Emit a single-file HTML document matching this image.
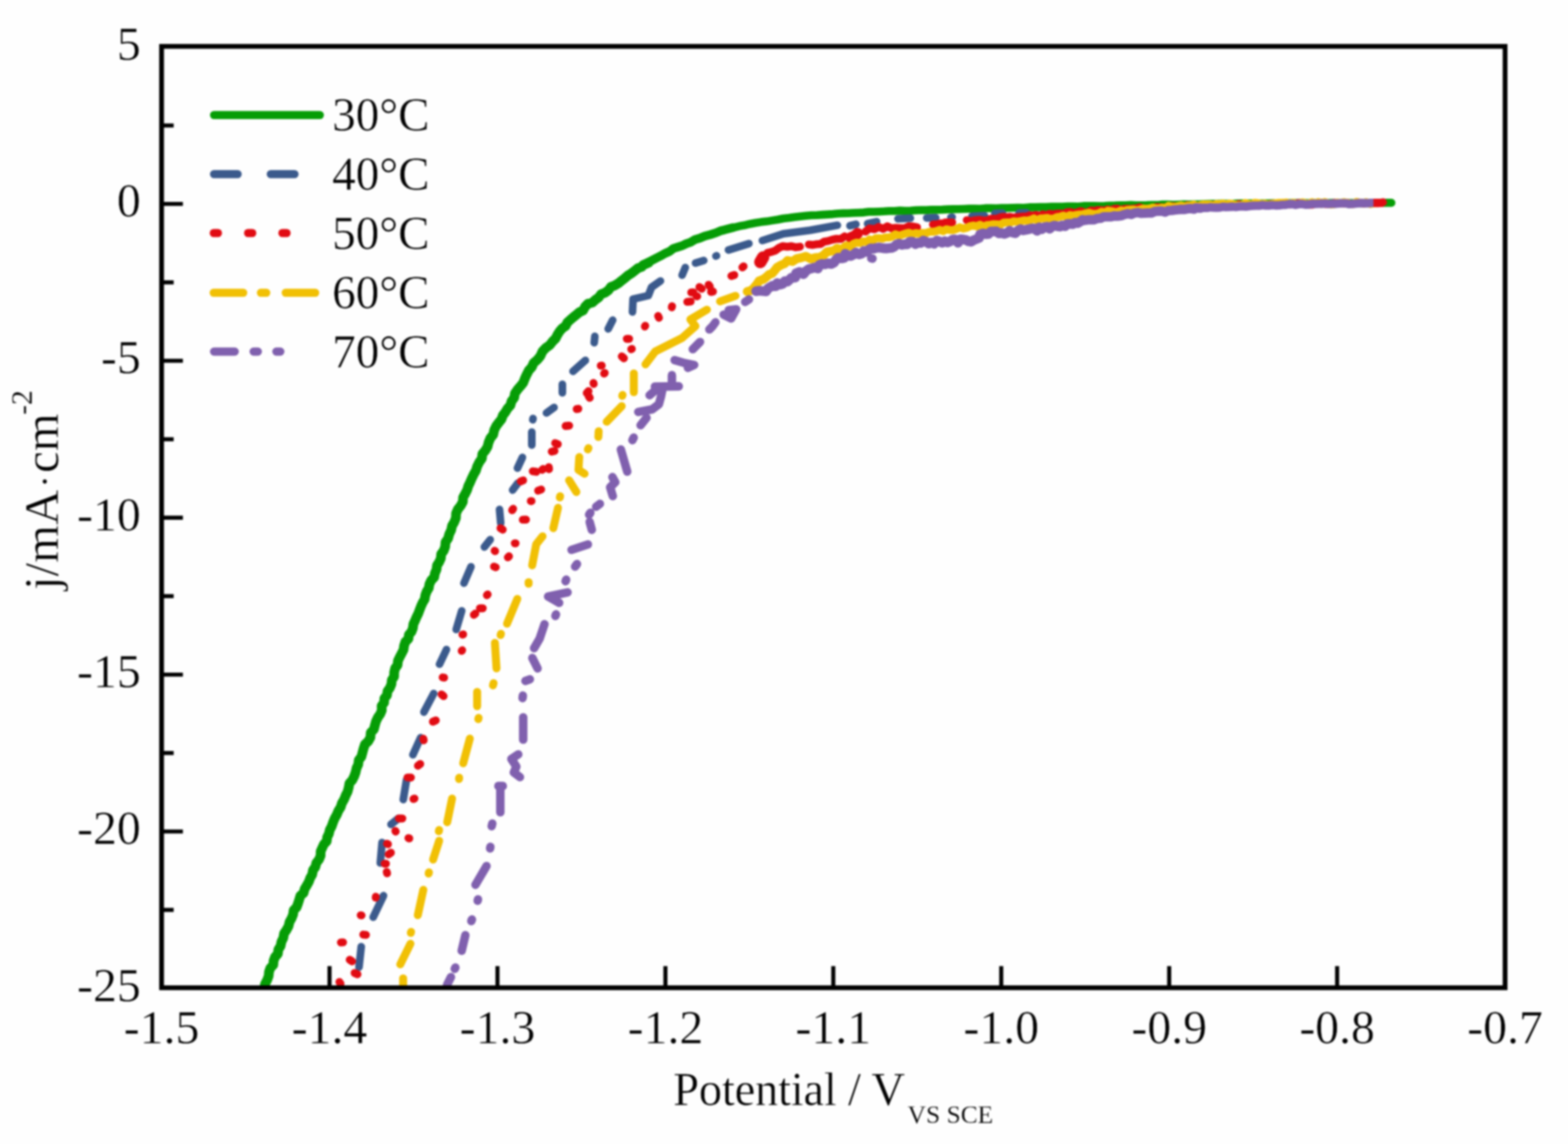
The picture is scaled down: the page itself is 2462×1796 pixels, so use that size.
<!DOCTYPE html>
<html lang="en"><head><meta charset="utf-8"><title>Polarization curves</title>
<style>
html,body{margin:0;padding:0;background:#fefefe;}
body{width:2462px;height:1796px;overflow:hidden;}
svg{display:block;filter:blur(1.7px);}
</style></head><body>
<svg width="2462" height="1796" viewBox="0 0 2462 1796">
<rect x="0" y="0" width="2462" height="1796" fill="#fefefe"/>
<clipPath id="cp"><rect x="253.7" y="72.8" width="2109.5" height="1480.9"/></clipPath>
<g clip-path="url(#cp)" fill="none" stroke-linecap="round" stroke-linejoin="round">
<path d="M410.2 1559.7 L415.4 1548.6 L416.1 1545.1 L419.4 1538.7 L421.8 1532.4 L422.4 1525.8 L424.4 1519.9 L429.1 1514.9 L429.6 1508.4 L431.8 1502.5 L436.3 1497.4 L437.1 1490.7 L440.6 1485.1 L441.9 1478.5 L444.9 1472.4 L446.0 1465.6 L449.9 1459.9 L453.1 1453.9 L454.6 1447.4 L457.8 1441.7 L460.2 1435.7 L461.1 1429.1 L465.7 1424.4 L467.9 1418.5 L469.8 1412.4 L471.6 1406.4 L476.7 1401.8 L478.3 1395.6 L481.6 1390.2 L484.8 1384.6 L487.0 1378.5 L490.2 1372.9 L491.4 1366.3 L495.2 1361.0 L496.8 1354.6 L500.9 1349.4 L503.4 1343.4 L503.5 1336.6 L506.0 1331.0 L508.6 1325.4 L513.0 1320.7 L513.7 1314.4 L516.4 1309.0 L517.8 1302.9 L520.8 1297.3 L522.9 1291.2 L525.4 1285.0 L528.7 1279.2 L531.3 1273.0 L534.9 1267.2 L536.9 1260.8 L540.3 1255.0 L542.8 1248.8 L545.8 1242.9 L547.5 1236.4 L548.7 1229.7 L553.3 1224.5 L556.2 1218.6 L558.4 1212.4 L559.8 1206.0 L562.5 1200.1 L563.3 1193.4 L567.4 1188.1 L569.1 1181.7 L570.8 1175.3 L572.9 1168.8 L578.2 1163.7 L581.6 1157.7 L582.1 1150.3 L587.0 1145.1 L588.7 1138.5 L590.5 1132.2 L593.3 1126.4 L597.0 1121.0 L599.5 1115.2 L599.2 1108.3 L603.1 1103.0 L603.5 1096.5 L607.6 1091.4 L608.5 1085.1 L612.2 1079.8 L614.6 1074.0 L615.2 1067.6 L618.8 1062.2 L618.9 1055.5 L620.4 1049.3 L624.2 1044.0 L624.9 1037.3 L627.7 1031.5 L630.7 1025.8 L633.6 1020.1 L634.5 1013.6 L636.5 1007.7 L641.3 1002.9 L642.0 996.5 L646.2 991.7 L648.3 986.0 L649.1 979.7 L651.7 974.2 L654.1 968.6 L656.8 963.1 L658.9 957.4 L661.1 951.7 L663.6 946.1 L666.8 940.8 L667.8 934.6 L669.9 928.8 L673.2 923.4 L674.3 917.0 L677.0 911.3 L681.7 906.3 L682.9 899.9 L685.4 894.1 L686.2 887.6 L689.6 882.3 L692.2 876.6 L692.7 870.0 L696.7 864.5 L699.0 858.3 L699.5 851.2 L703.6 845.2 L705.4 838.5 L708.4 832.3 L709.8 825.5 L713.3 819.6 L715.8 813.2 L716.1 806.0 L718.8 799.7 L723.2 794.1 L726.7 788.0 L727.2 780.9 L730.5 775.0 L733.5 769.1 L735.4 762.8 L738.2 757.1 L740.8 751.0 L743.7 744.9 L747.2 738.9 L749.3 732.1 L752.5 725.7 L756.6 719.9 L757.4 712.6 L762.0 707.2 L765.5 701.4 L767.2 694.5 L769.9 688.0 L774.5 682.2 L776.0 675.1 L779.1 668.9 L783.2 663.4 L787.4 658.2 L789.6 651.9 L793.6 646.9 L796.9 641.3 L801.4 636.4 L803.2 629.9 L807.3 624.5 L808.5 617.5 L812.5 611.8 L817.1 606.4 L821.5 600.9 L824.1 594.2 L827.0 587.9 L830.2 581.7 L835.0 576.4 L838.0 569.7 L843.8 564.8 L848.5 558.9 L851.7 551.8 L856.9 546.3 L863.1 541.9 L867.4 536.3 L872.3 531.5 L875.4 525.4 L878.8 520.0 L882.9 515.4 L888.1 511.7 L891.0 506.1 L895.5 502.0 L900.2 498.0 L905.0 494.1 L909.8 490.1 L915.6 487.3 L918.8 481.4 L923.2 476.9 L930.0 475.0 L934.7 470.8 L939.9 467.1 L943.9 461.9 L950.0 459.5 L955.2 455.8 L959.2 450.4 L965.5 448.1 L970.9 444.8 L975.9 440.7 L981.0 436.8 L985.9 432.5 L991.3 429.1 L996.4 425.2 L1001.4 421.2 L1007.6 418.9 L1009.7 416.3 L1018.6 412.3" stroke="#069d06" stroke-width="15.2" />
<path d="M1018.1 411.7 L1028.2 406.4 L1031.6 404.6 L1038.3 401.3 L1044.8 397.6 L1051.5 394.6 L1057.4 390.0 L1064.4 387.8 L1071.4 385.7 L1077.8 382.5 L1084.6 380.2 L1091.2 376.1 L1098.9 373.9 L1106.7 370.6 L1115.3 368.3 L1124.1 365.5 L1132.7 361.9 L1137.2 360.9 L1150.6 357.4" stroke="#069d06" stroke-width="13.8" />
<path d="M1150.7 357.6 L1163.8 354.4 L1168.2 353.8 L1177.0 351.7 L1185.9 350.0 L1194.8 348.6 L1203.7 347.6 L1212.5 346.1 L1221.3 344.7 L1230.0 343.0 L1238.9 342.0 L1247.8 340.7 L1256.6 339.7 L1265.4 338.7 L1274.2 338.0 L1282.9 337.8 L1291.4 337.1 L1299.7 336.6 L1307.9 336.1 L1316.0 335.2 L1324.0 334.9 L1332.0 334.7 L1340.0 334.3 L1348.0 334.0 L1356.0 333.6 L1364.0 332.5 L1372.1 332.5 L1380.2 332.2 L1388.3 331.8 L1396.5 331.2 L1404.8 331.2 L1413.1 330.6 L1421.4 331.0 L1429.6 330.7 L1437.9 330.1 L1446.2 329.7 L1454.5 329.9 L1462.8 329.3 L1471.1 329.4 L1479.5 329.1 L1487.9 328.6 L1496.4 328.4 L1504.8 328.3 L1513.3 328.0 L1521.8 327.6 L1530.2 327.5 L1538.7 327.7 L1547.1 326.9 L1555.6 326.7 L1564.1 327.0 L1572.6 326.5 L1581.2 326.5 L1589.8 326.3 L1598.6 326.0 L1607.3 326.3 L1616.1 325.4 L1624.9 325.4 L1633.7 325.0 L1642.4 325.1 L1651.1 324.6 L1659.7 324.5 L1668.1 324.6 L1676.5 324.1 L1684.8 324.1 L1693.0 324.2 L1701.2 323.4 L1709.5 323.2 L1717.7 323.2 L1726.0 323.5 L1734.3 323.2 L1742.5 322.7 L1750.7 322.6 L1759.0 322.3 L1767.2 322.4 L1775.5 321.9 L1783.8 322.2 L1792.0 322.2 L1800.3 322.1 L1808.6 321.8 L1816.9 321.9 L1825.2 321.0 L1833.6 321.1 L1841.9 321.5 L1850.2 321.2 L1858.5 320.8 L1866.8 321.1 L1875.1 320.7 L1883.4 320.8 L1891.7 320.2 L1900.1 320.0 L1908.4 320.1 L1916.7 319.7 L1925.0 319.8 L1933.3 320.2 L1941.7 319.6 L1950.0 319.3 L1958.3 319.3 L1966.7 319.3 L1975.0 319.8 L1983.3 319.4 L1991.7 319.3 L2000.0 319.0 L2008.3 319.7 L2016.7 319.2 L2025.0 318.9 L2033.3 318.8 L2041.7 318.7 L2050.0 318.8 L2058.4 319.1 L2066.8 318.7 L2075.3 318.5 L2083.7 318.9 L2092.1 318.6 L2100.5 319.2 L2108.9 318.5 L2117.4 318.8 L2125.8 318.9 L2134.2 318.6 L2142.6 319.0 L2151.0 318.6 L2159.4 318.4 L2167.9 318.5 L2172.1 318.2 L2184.7 318.4" stroke="#069d06" stroke-width="12.6" />
<path d="M563.7 1518.4 L567.2 1486.2" stroke="#3b5a8c" stroke-width="12.0" />
<path d="M586.0 1439.9 L602.2 1406.1" stroke="#3b5a8c" stroke-width="12.0" />
<path d="M597.1 1354.8 L599.9 1322.7" stroke="#3b5a8c" stroke-width="12.0" />
<path d="M613.9 1294.2 L625.7 1284.8" stroke="#3b5a8c" stroke-width="12.0" />
<path d="M633.2 1255.3 L638.3 1224.2" stroke="#3b5a8c" stroke-width="12.0" />
<path d="M648.3 1184.9 L660.5 1158.1" stroke="#3b5a8c" stroke-width="12.0" />
<path d="M665.6 1117.9 L681.0 1088.7" stroke="#3b5a8c" stroke-width="12.0" />
<path d="M690.1 1042.7 L701.0 1019.7" stroke="#3b5a8c" stroke-width="12.0" />
<path d="M716.3 988.3 L725.0 958.9" stroke="#3b5a8c" stroke-width="12.0" />
<path d="M728.5 915.5 L739.5 889.8" stroke="#3b5a8c" stroke-width="12.0" />
<path d="M760.5 858.7 L769.7 847.2" stroke="#3b5a8c" stroke-width="12.0" />
<path d="M786.2 821.3 L784.3 799.8" stroke="#3b5a8c" stroke-width="12.0" />
<path d="M804.9 769.4 L812.8 758.8" stroke="#3b5a8c" stroke-width="12.0" />
<path d="M812.5 734.9 L820.3 718.1" stroke="#3b5a8c" stroke-width="12.0" />
<path d="M835.0 698.8 L835.0 678.2" stroke="#3b5a8c" stroke-width="12.0" />
<path d="M836.5 659.0 L837.0 657.0" stroke="#3b5a8c" stroke-width="12.0" />
<path d="M858.0 648.3 L870.0 639.7" stroke="#3b5a8c" stroke-width="12.0" />
<path d="M883.0 616.8 L883.0 603.2" stroke="#3b5a8c" stroke-width="12.0" />
<path d="M899.7 582.9 L919.1 565.8" stroke="#3b5a8c" stroke-width="12.0" />
<path d="M933.0 538.0 L934.0 528.0" stroke="#3b5a8c" stroke-width="12.0" />
<path d="M955.0 516.3 L962.0 502.6" stroke="#3b5a8c" stroke-width="12.0" />
<path d="M993.1 489.8 L994.0 469.7 L1018.0 464.0 L1023.0 451.0 L1037.0 441.2" stroke="#3b5a8c" stroke-width="12.0" />
<path d="M1071.0 432.0 L1076.0 420.0" stroke="#3b5a8c" stroke-width="12.0" />
<path d="M1092.0 413.0 L1105.0 409.0" stroke="#3b5a8c" stroke-width="12.0" />
<path d="M1124.0 402.0 L1125.0 401.5" stroke="#3b5a8c" stroke-width="12.0" />
<path d="M1143.8 392.4 L1175.9 382.4" stroke="#3b5a8c" stroke-width="12.0" />
<path d="M1197.1 377.6 L1230.0 367.0 L1272.0 361.5 L1314.8 353.7" stroke="#3b5a8c" stroke-width="12.0" />
<path d="M1334.5 354.4 L1344.0 352.1" stroke="#3b5a8c" stroke-width="12.0" />
<path d="M1362.2 351.2 L1376.4 348.0" stroke="#3b5a8c" stroke-width="12.0" />
<path d="M1410.0 343.5 L1429.4 342.5" stroke="#3b5a8c" stroke-width="12.0" />
<path d="M1455.1 342.2 L1469.2 341.8" stroke="#3b5a8c" stroke-width="12.0" />
<path d="M1493.0 341.4 L1495.0 340.9" stroke="#3b5a8c" stroke-width="12.0" />
<path d="M1526.2 339.4 L1545.8 338.6" stroke="#3b5a8c" stroke-width="12.0" />
<path d="M1562.0 335.0 L1574.0 334.6" stroke="#3b5a8c" stroke-width="12.0" />
<path d="M1600.2 334.4 L1611.8 334.0" stroke="#3b5a8c" stroke-width="12.0" />
<path d="M534.7 1544.3 L532.9 1541.7" stroke="#e10b12" stroke-width="12.4" />
<path d="M561.3 1529.5 L556.7 1527.5" stroke="#e10b12" stroke-width="12.4" />
<path d="M552.9 1509.2 L549.1 1506.8" stroke="#e10b12" stroke-width="12.4" />
<path d="M535.3 1479.6 L538.7 1479.4" stroke="#e10b12" stroke-width="12.4" />
<path d="M574.6 1467.7 L570.4 1467.3" stroke="#e10b12" stroke-width="12.4" />
<path d="M567.7 1437.1 L566.3 1436.9" stroke="#e10b12" stroke-width="12.4" />
<path d="M589.9 1409.2 L590.1 1407.8" stroke="#e10b12" stroke-width="12.4" />
<path d="M607.8 1371.1 L607.2 1368.9" stroke="#e10b12" stroke-width="12.4" />
<path d="M604.0 1356.0 L606.0 1356.0" stroke="#e10b12" stroke-width="12.4" />
<path d="M610.2 1341.3 L613.8 1338.7" stroke="#e10b12" stroke-width="12.4" />
<path d="M609.2 1325.4 L607.8 1324.6" stroke="#e10b12" stroke-width="12.4" />
<path d="M642.7 1316.3 L641.3 1315.7" stroke="#e10b12" stroke-width="12.4" />
<path d="M621.3 1305.5 L620.7 1304.5" stroke="#e10b12" stroke-width="12.4" />
<path d="M626.3 1285.0 L631.7 1285.0" stroke="#e10b12" stroke-width="12.4" />
<path d="M649.2 1254.4 L650.8 1253.6" stroke="#e10b12" stroke-width="12.4" />
<path d="M645.2 1220.8 L639.8 1220.6" stroke="#e10b12" stroke-width="12.4" />
<path d="M656.2 1202.2 L659.8 1199.4" stroke="#e10b12" stroke-width="12.4" />
<path d="M665.3 1162.3 L664.7 1159.7" stroke="#e10b12" stroke-width="12.4" />
<path d="M679.7 1133.0 L684.3 1131.0" stroke="#e10b12" stroke-width="12.4" />
<path d="M696.5 1092.9 L693.3 1090.1" stroke="#e10b12" stroke-width="12.4" />
<path d="M697.4 1063.9 L695.0 1063.5" stroke="#e10b12" stroke-width="12.4" />
<path d="M724.9 1021.8 L725.7 1020.8" stroke="#e10b12" stroke-width="12.4" />
<path d="M726.1 996.3 L727.3 995.9" stroke="#e10b12" stroke-width="12.4" />
<path d="M744.0 965.3 L746.4 963.3" stroke="#e10b12" stroke-width="12.4" />
<path d="M753.6 955.0 L758.0 955.0" stroke="#e10b12" stroke-width="12.4" />
<path d="M764.5 934.5 L765.7 933.1" stroke="#e10b12" stroke-width="12.4" />
<path d="M778.4 890.6 L775.6 889.4" stroke="#e10b12" stroke-width="12.4" />
<path d="M797.4 875.1 L799.2 873.3" stroke="#e10b12" stroke-width="12.4" />
<path d="M777.4 865.2 L776.6 864.6" stroke="#e10b12" stroke-width="12.4" />
<path d="M809.5 853.0 L808.3 853.0" stroke="#e10b12" stroke-width="12.4" />
<path d="M789.4 831.5 L785.8 829.3" stroke="#e10b12" stroke-width="12.4" />
<path d="M820.9 815.9 L825.9 815.7" stroke="#e10b12" stroke-width="12.4" />
<path d="M804.1 801.0 L805.7 798.8" stroke="#e10b12" stroke-width="12.4" />
<path d="M833.4 786.7 L834.6 786.7" stroke="#e10b12" stroke-width="12.4" />
<path d="M844.9 770.3 L849.7 768.5" stroke="#e10b12" stroke-width="12.4" />
<path d="M817.6 755.7 L821.4 754.1" stroke="#e10b12" stroke-width="12.4" />
<path d="M842.1 740.7 L836.5 739.9" stroke="#e10b12" stroke-width="12.4" />
<path d="M851.3 737.7 L852.7 736.3" stroke="#e10b12" stroke-width="12.4" />
<path d="M862.1 736.5 L861.7 733.5" stroke="#e10b12" stroke-width="12.4" />
<path d="M866.3 709.0 L870.7 708.0" stroke="#e10b12" stroke-width="12.4" />
<path d="M875.9 697.4 L871.7 695.6" stroke="#e10b12" stroke-width="12.4" />
<path d="M888.1 668.7 L893.7 668.3" stroke="#e10b12" stroke-width="12.4" />
<path d="M905.5 642.2 L908.1 641.8" stroke="#e10b12" stroke-width="12.4" />
<path d="M926.0 624.6 L924.0 621.4" stroke="#e10b12" stroke-width="12.4" />
<path d="M921.3 617.0 L924.1 614.0" stroke="#e10b12" stroke-width="12.4" />
<path d="M932.2 602.8 L931.8 601.2" stroke="#e10b12" stroke-width="12.4" />
<path d="M948.5 586.5 L949.5 585.5" stroke="#e10b12" stroke-width="12.4" />
<path d="M943.2 574.1 L944.8 573.9" stroke="#e10b12" stroke-width="12.4" />
<path d="M979.7 562.5 L976.3 559.5" stroke="#e10b12" stroke-width="12.4" />
<path d="M991.1 548.2 L992.1 547.8" stroke="#e10b12" stroke-width="12.4" />
<path d="M987.8 532.0 L984.2 532.0" stroke="#e10b12" stroke-width="12.4" />
<path d="M1012.5 512.6 L1013.1 511.4" stroke="#e10b12" stroke-width="12.4" />
<path d="M1034.7 499.0 L1033.3 496.0" stroke="#e10b12" stroke-width="12.4" />
<path d="M1054.8 482.5 L1055.2 480.7" stroke="#e10b12" stroke-width="12.4" />
<path d="M1079.1 473.9 L1084.5 473.3" stroke="#e10b12" stroke-width="12.4" />
<path d="M1085.3 459.1 L1088.7 458.9" stroke="#e10b12" stroke-width="12.4" />
<path d="M1094.7 465.2 L1093.3 464.8" stroke="#e10b12" stroke-width="12.4" />
<path d="M1101.9 453.3 L1098.1 450.7" stroke="#e10b12" stroke-width="12.4" />
<path d="M1114.6 449.9 L1112.6 447.1" stroke="#e10b12" stroke-width="12.4" />
<path d="M1116.5 458.3 L1119.5 457.7" stroke="#e10b12" stroke-width="12.4" />
<path d="M1148.4 433.2 L1153.0 431.8" stroke="#e10b12" stroke-width="12.4" />
<path d="M1165.6 419.8 L1167.6 418.2" stroke="#e10b12" stroke-width="12.4" />
<path d="M1193.8 411.4 L1198.2 404.1" stroke="#e10b12" stroke-width="19.4" />
<path d="M1204.9 397.0 L1211.3 395.5 L1217.5 393.3 L1222.9 389.2 L1228.9 386.5 L1236.2 387.4 L1242.7 386.5 L1249.5 388.2 L1256.1 387.3" stroke="#e10b12" stroke-width="12.4" />
<path d="M1270.0 383.9 L1276.3 384.5 L1282.3 383.4 L1288.4 383.0 L1294.0 379.3 L1300.0 378.4 L1306.5 376.4 L1313.2 374.9 L1320.3 375.1 L1326.3 371.0" stroke="#e10b12" stroke-width="12.4" />
<path d="M1336.0 372.8 L1342.0 370.6 L1346.4 366.5" stroke="#e10b12" stroke-width="17.4" />
<path d="M1358.9 363.6 L1365.3 358.5 L1373.0 359.9 L1379.7 356.2 L1386.7 359.3 L1393.3 355.2 L1400.0 358.5 L1406.7 357.6 L1413.4 358.1 L1420.0 358.5 L1426.6 355.3 L1433.3 355.5 L1440.0 356.8" stroke="#e10b12" stroke-width="12.4" />
<path d="M1464.9 352.5 L1471.5 351.9 L1477.9 350.7" stroke="#e10b12" stroke-width="12.4" />
<path d="M1484.0 349.1 L1495.1 349.2" stroke="#e10b12" stroke-width="12.4" />
<path d="M1518.0 345.7 L1524.4 347.4 L1530.8 345.9 L1537.2 345.2 L1543.6 346.2 L1550.0 346.0" stroke="#e10b12" stroke-width="12.4" />
<path d="M1555.0 343.4 L1562.8 343.4 L1565.4 343.2 L1570.5 341.2 L1575.7 340.4 L1580.9 341.2 L1586.1 340.5 L1591.3 341.7 L1596.4 341.0 L1601.5 340.4 L1606.7 339.9 L1611.8 339.9 L1616.8 338.0 L1622.0 338.6 L1627.1 337.4 L1632.4 339.3 L1637.3 336.4 L1642.7 338.3 L1647.8 335.6 L1653.4 337.0 L1658.7 335.5 L1664.3 335.2 L1669.9 336.0 L1675.3 333.1 L1680.8 332.7 L1686.5 334.8 L1691.8 333.1 L1697.1 331.4 L1702.7 333.7 L1707.9 333.2 L1713.0 330.4 L1718.3 331.0 L1723.6 329.7 L1728.9 329.9 L1734.2 330.5 L1739.4 328.7 L1744.7 330.0 L1749.8 327.7 L1754.9 327.8 L1760.1 329.4 L1765.0 328.0 L1770.0 327.8 L1775.0 328.0 L1780.0 327.4 L1785.0 326.9 L1789.9 325.6 L1795.0 327.4 L1800.1 327.9 L1805.1 327.7 L1810.0 326.5 L1815.0 325.3 L1820.0 325.1 L1825.0 325.8 L1830.0 325.5 L1834.9 323.6 L1840.0 323.7 L1845.0 323.9 L1850.0 324.1 L1855.0 324.8 L1860.0 323.8 L1865.0 322.2 L1870.0 324.5 L1875.0 323.2 L1880.0 323.4 L1885.0 322.4 L1890.0 322.8 L1895.0 322.6 L1900.0 323.6 L1905.0 321.5 L1910.0 322.7 L1915.0 321.5 L1920.0 323.0 L1925.0 320.9 L1930.0 321.5 L1935.0 321.5 L1940.0 322.3 L1945.0 320.4 L1950.0 321.5 L1955.0 320.7 L1960.0 320.8 L1965.0 321.2 L1970.0 322.6 L1975.0 321.0 L1980.0 322.3 L1985.0 319.9 L1990.0 322.0 L1995.0 320.2 L2000.0 319.6 L2005.1 321.2 L2010.1 321.6 L2015.1 318.8 L2020.2 319.6 L2025.2 321.0 L2030.3 319.7 L2035.3 319.3 L2040.3 318.5 L2045.4 318.6 L2050.4 320.2 L2055.5 321.3 L2060.5 321.3 L2065.6 319.7 L2070.6 318.2 L2075.7 319.0 L2080.7 320.4 L2085.8 320.4 L2090.8 319.8 L2095.8 318.5 L2100.9 319.3 L2105.9 319.1 L2111.0 319.5 L2116.0 318.4 L2121.1 320.4 L2126.1 320.1 L2131.1 317.9 L2136.2 318.2 L2141.2 319.9 L2146.3 318.0 L2151.3 320.0 L2156.4 318.6 L2161.4 319.1 L2163.9 319.1 L2171.5 317.5" stroke="#e10b12" stroke-width="12.4" />
<path d="M633.0 1536.0 L633.0 1550.0" stroke="#f1c004" stroke-width="12.5" />
<path d="M628.5 1513.9 L644.5 1481.6" stroke="#f1c004" stroke-width="12.5" />
<path d="M645.0 1464.6 L645.5 1463.0" stroke="#f1c004" stroke-width="12.5" />
<path d="M656.0 1436.8 L664.7 1396.9" stroke="#f1c004" stroke-width="12.5" />
<path d="M673.0 1371.5 L673.5 1369.5" stroke="#f1c004" stroke-width="12.5" />
<path d="M680.0 1349.5 L689.6 1319.9" stroke="#f1c004" stroke-width="12.5" />
<path d="M689.0 1305.0 L689.5 1303.0" stroke="#f1c004" stroke-width="12.5" />
<path d="M702.2 1290.8 L709.8 1253.7" stroke="#f1c004" stroke-width="12.5" />
<path d="M720.7 1223.0 L721.0 1221.0" stroke="#f1c004" stroke-width="12.5" />
<path d="M727.3 1198.3 L737.7 1159.6" stroke="#f1c004" stroke-width="12.5" />
<path d="M751.0 1129.0 L751.5 1127.0" stroke="#f1c004" stroke-width="12.5" />
<path d="M749.2 1108.8 L749.2 1086.2" stroke="#f1c004" stroke-width="12.5" />
<path d="M774.0 1076.0 L775.0 1072.5" stroke="#f1c004" stroke-width="12.5" />
<path d="M779.6 1049.3 L777.1 1009.2" stroke="#f1c004" stroke-width="12.5" />
<path d="M786.0 997.0 L786.6 995.0" stroke="#f1c004" stroke-width="12.5" />
<path d="M796.1 979.1 L812.3 940.2" stroke="#f1c004" stroke-width="12.5" />
<path d="M830.0 916.5 L830.0 914.0" stroke="#f1c004" stroke-width="12.5" />
<path d="M835.6 887.5 L842.0 854.3 L851.9 841.9" stroke="#f1c004" stroke-width="12.5" />
<path d="M868.8 829.2 L876.2 797.2" stroke="#f1c004" stroke-width="12.5" />
<path d="M879.0 781.0 L879.5 779.0" stroke="#f1c004" stroke-width="12.5" />
<path d="M893.6 754.0 L905.0 772.4" stroke="#f1c004" stroke-width="12.5" />
<path d="M917.9 743.7 L908.3 737.6 L909.5 717.6" stroke="#f1c004" stroke-width="12.5" />
<path d="M923.0 705.5 L924.0 703.5" stroke="#f1c004" stroke-width="12.5" />
<path d="M939.5 686.0 L940.0 677.0" stroke="#f1c004" stroke-width="12.5" />
<path d="M952.6 662.1 L976.2 637.6" stroke="#f1c004" stroke-width="12.5" />
<path d="M977.0 621.5 L977.5 620.0" stroke="#f1c004" stroke-width="12.5" />
<path d="M995.2 615.8 L995.2 586.2" stroke="#f1c004" stroke-width="12.5" />
<path d="M1013.5 572.0 L1028.7 551.9 L1071.0 530.6 L1092.0 512.0 L1084.0 501.5 L1110.0 486.2" stroke="#f1c004" stroke-width="12.5" />
<path d="M1130.6 473.2 L1154.9 464.4" stroke="#f1c004" stroke-width="12.5" />
<path d="M1173.3 457.8 L1179.6 455.9 L1183.9 451.8 L1188.0 446.8 L1191.8 441.0 L1198.7 438.4 L1203.5 434.7 L1207.4 431.1 L1212.3 429.3 L1216.4 424.7 L1220.3 419.6 L1226.4 416.2 L1231.9 413.8 L1236.5 409.0 L1244.3 410.5 L1250.8 406.2 L1258.1 404.6 L1265.3 402.4 L1273.2 406.4 L1280.1 404.5 L1286.9 404.1 L1293.3 400.5 L1298.3 395.5 L1304.4 394.4 L1309.8 393.4 L1314.3 389.9 L1320.7 392.1" stroke="#f1c004" stroke-width="14.0" />
<path d="M1320.5 391.8 L1327.1 386.4 L1329.5 385.2 L1335.6 387.4 L1339.7 382.8 L1344.7 381.0 L1350.4 381.6 L1355.2 379.0 L1360.8 379.7 L1365.1 375.9 L1370.7 377.5 L1375.0 374.0 L1380.3 374.1 L1385.6 374.5 L1390.6 372.7 L1395.9 372.8 L1401.0 371.2 L1405.8 367.8 L1411.6 370.3 L1416.6 368.4 L1421.7 366.6 L1427.0 365.4 L1432.6 367.5 L1437.9 365.9 L1443.4 366.8 L1448.8 365.7 L1454.2 365.9 L1459.5 363.8 L1464.9 363.8 L1470.1 362.8 L1475.3 360.8 L1480.9 363.0 L1485.9 359.9 L1491.4 361.1 L1496.8 361.2 L1502.0 359.4 L1507.0 356.8 L1512.6 358.9 L1517.9 357.7 L1522.9 355.2 L1528.2 354.0 L1533.7 355.4 L1538.7 352.8 L1544.4 355.7 L1549.5 353.5 L1554.8 352.9 L1560.1 351.9 L1565.5 352.3 L1570.9 352.7 L1575.9 349.6 L1581.2 349.2 L1586.6 349.3 L1591.8 347.5 L1597.2 348.1 L1602.5 347.2 L1607.8 346.1 L1613.1 346.4 L1618.3 345.2 L1623.3 342.9 L1628.9 346.0 L1633.7 342.9 L1638.9 342.7 L1644.0 342.1 L1649.4 343.7 L1654.5 343.3 L1659.5 341.0 L1664.6 340.1 L1669.6 338.4 L1675.0 341.1 L1679.8 337.7 L1685.0 338.7 L1689.9 337.4 L1694.9 336.8 L1699.9 336.4 L1704.9 335.2 L1709.8 334.1 L1715.0 335.5 L1720.1 336.0 L1725.1 334.8 L1729.9 332.5 L1735.1 333.9 L1739.8 330.8 L1745.0 331.7 L1750.1 332.9 L1755.2 332.7 L1760.0 330.4 L1765.1 331.5 L1770.0 329.7 L1775.0 329.3 L1780.0 329.1 L1785.2 330.3 L1790.1 328.9 L1795.0 327.4 L1800.1 328.0 L1805.0 327.3 L1810.0 325.8 L1815.1 327.2 L1820.1 327.1 L1825.0 325.9 L1830.1 327.0 L1834.9 323.0 L1840.0 324.6 L1845.0 324.9 L1850.0 323.4 L1854.9 322.5 L1860.0 324.4 L1865.0 323.1 L1870.0 322.3 L1874.9 321.2 L1880.1 324.7 L1885.0 322.0 L1889.9 320.9 L1895.0 321.1 L1900.0 321.0 L1905.1 323.3 L1909.9 320.3 L1915.0 320.5 L1919.9 319.6 L1925.0 321.0 L1930.0 319.8 L1935.0 320.2 L1940.0 321.7 L1945.0 322.4 L1950.0 321.9 L1955.0 318.7 L1960.0 320.0 L1965.0 321.8 L1970.0 318.4 L1975.0 319.0 L1980.0 320.1 L1985.0 319.6 L1990.0 321.0 L1995.0 320.8 L2000.0 319.7 L2005.0 318.8 L2010.0 318.6 L2015.0 318.8 L2020.0 317.9 L2025.0 320.3 L2030.0 318.2 L2035.0 321.1 L2040.0 320.1 L2045.0 317.7 L2050.0 319.4 L2055.0 319.8 L2060.0 317.5 L2065.0 319.3 L2070.0 317.4 L2075.0 320.3 L2080.0 317.2 L2085.0 319.7 L2090.0 321.1 L2095.0 320.5 L2100.0 318.0 L2105.0 319.2 L2110.0 317.5 L2115.0 318.3 L2120.0 320.4 L2125.0 320.1 L2130.0 316.9 L2135.0 318.3 L2140.0 319.3 L2145.0 317.4 L2150.0 319.9 L2152.5 320.2 L2160.0 318.8" stroke="#f1c004" stroke-width="12.5" />
<path d="M702.0 1546.0 L708.0 1534.0" stroke="#8060ae" stroke-width="13.3" />
<path d="M714.0 1521.0 L715.0 1519.0" stroke="#8060ae" stroke-width="13.3" />
<path d="M724.9 1492.6 L730.7 1468.2" stroke="#8060ae" stroke-width="13.3" />
<path d="M740.0 1446.0 L741.0 1443.5" stroke="#8060ae" stroke-width="13.3" />
<path d="M750.0 1414.0 L750.5 1412.0" stroke="#8060ae" stroke-width="13.3" />
<path d="M746.6 1389.0 L763.9 1359.6" stroke="#8060ae" stroke-width="13.3" />
<path d="M769.5 1332.0 L770.0 1329.5" stroke="#8060ae" stroke-width="13.3" />
<path d="M772.0 1297.0 L773.0 1293.0" stroke="#8060ae" stroke-width="13.3" />
<path d="M785.6 1275.2 L785.6 1237.2" stroke="#8060ae" stroke-width="13.3" />
<path d="M782.5 1234.0 L789.5 1234.0" stroke="#8060ae" stroke-width="13.3" />
<path d="M816.4 1220.0 L806.8 1212.7 L810.8 1203.5 L802.9 1191.5 L813.8 1184.3" stroke="#8060ae" stroke-width="13.3" />
<path d="M821.5 1161.2 L821.5 1126.2" stroke="#8060ae" stroke-width="13.3" />
<path d="M820.5 1096.0 L821.0 1092.0" stroke="#8060ae" stroke-width="13.3" />
<path d="M825.0 1069.0 L832.0 1066.5" stroke="#8060ae" stroke-width="13.3" />
<path d="M844.1 1049.4 L835.9 1033.0" stroke="#8060ae" stroke-width="13.3" />
<path d="M838.6 1017.6 L847.3 1002.7 L854.9 980.0" stroke="#8060ae" stroke-width="13.3" />
<path d="M872.0 967.0 L873.0 964.5" stroke="#8060ae" stroke-width="13.3" />
<path d="M878.0 946.4 L860.6 936.5 L891.2 930.0" stroke="#8060ae" stroke-width="13.3" />
<path d="M888.0 912.5 L889.0 910.0" stroke="#8060ae" stroke-width="13.3" />
<path d="M903.0 889.5 L906.0 885.5" stroke="#8060ae" stroke-width="13.3" />
<path d="M897.4 863.2 L923.1 854.7" stroke="#8060ae" stroke-width="13.3" />
<path d="M929.2 831.8 L925.8 819.2" stroke="#8060ae" stroke-width="13.3" />
<path d="M925.0 808.0 L927.0 805.0" stroke="#8060ae" stroke-width="13.3" />
<path d="M936.0 795.5 L942.0 791.0" stroke="#8060ae" stroke-width="13.3" />
<path d="M962.2 778.9 L958.0 765.0 L966.0 757.0 L961.6 749.0" stroke="#8060ae" stroke-width="13.3" />
<path d="M984.9 740.4 L974.8 705.7" stroke="#8060ae" stroke-width="13.3" />
<path d="M993.0 691.0 L995.0 687.0" stroke="#8060ae" stroke-width="13.3" />
<path d="M1005.8 667.6 L1015.2 655.9" stroke="#8060ae" stroke-width="13.3" />
<path d="M1002.2 646.8 L1024.0 642.6 L1034.6 634.6 L1038.0 622.0 L1039.8 613.2" stroke="#8060ae" stroke-width="13.3" />
<path d="M1028.2 607.0 L1065.8 606.5" stroke="#8060ae" stroke-width="13.3" />
<path d="M1020.0 620.5 L1027.0 614.5" stroke="#8060ae" stroke-width="13.3" />
<path d="M1055.0 603.0 L1055.0 589.0" stroke="#8060ae" stroke-width="13.3" />
<path d="M1059.2 565.3 L1075.0 570.0 L1090.0 573.0 L1080.1 577.5" stroke="#8060ae" stroke-width="13.3" />
<path d="M1087.8 548.2 L1099.2 536.8" stroke="#8060ae" stroke-width="13.3" />
<path d="M1113.8 517.2 L1119.0 512.0 L1123.3 506.0" stroke="#8060ae" stroke-width="13.3" />
<path d="M1136.1 494.0 L1148.0 500.0 L1156.0 485.6 L1144.2 486.9" stroke="#8060ae" stroke-width="13.3" />
<path d="M1170.0 474.0 L1176.0 470.0" stroke="#8060ae" stroke-width="13.3" />
<path d="M1187.3 457.2 L1192.3 456.5 L1197.5 457.0 L1202.8 457.5 L1206.1 452.7 L1209.5 450.6 L1212.9 448.7 L1218.1 449.3 L1220.2 444.5 L1225.2 446.9 L1229.0 445.5 L1232.2 441.4 L1236.5 442.0 L1239.7 439.1 L1242.7 435.8 L1248.6 435.9 L1250.0 429.1 L1255.0 426.9 L1261.7 430.4 L1265.5 425.5 L1269.9 422.5 L1274.7 421.4 L1279.0 419.9 L1284.2 421.6 L1286.4 415.9 L1290.3 414.4 L1295.3 415.0 L1299.7 413.4 L1305.2 414.4 L1309.7 412.1 L1312.7 407.5 L1315.8 404.6 L1321.4 405.7 L1325.3 405.0 L1327.1 398.4 L1332.2 401.7 L1336.2 401.8 L1340.1 399.8 L1343.9 396.6 L1348.9 399.4 L1353.1 398.2 L1356.4 394.1 L1361.0 395.5 L1364.1 392.0 L1367.6 389.8 L1372.0 390.3 L1375.9 389.2 L1379.9 388.6 L1384.2 389.3 L1388.3 389.9 L1392.4 390.0 L1396.4 389.5 L1400.4 389.1 L1404.2 387.3 L1407.9 383.8 L1411.9 382.4 L1416.4 384.4 L1420.5 383.3 L1424.7 383.5 L1428.3 379.4 L1432.6 379.3 L1437.3 383.2 L1441.3 381.0 L1445.5 381.4 L1449.7 377.7 L1454.0 379.4 L1458.3 382.3 L1462.5 380.6 L1466.8 382.6 L1470.9 377.7 L1475.1 379.1 L1479.3 381.0 L1483.4 378.7 L1487.6 380.6 L1491.7 379.0 L1495.7 376.2 L1499.8 375.9 L1504.2 381.1 L1508.1 375.7 L1512.3 376.0 L1516.4 376.7 L1520.7 378.8 L1524.8 379.5 L1528.9 377.0 L1532.7 375.5 L1537.4 373.5 L1538.9 368.0 L1543.3 366.5 L1547.9 367.5 L1552.0 367.3 L1555.9 363.3 L1560.1 363.4 L1564.2 363.2 L1568.7 366.4 L1572.8 365.9 L1577.1 367.2 L1581.2 365.6 L1585.2 362.3 L1589.8 365.0 L1594.2 366.1 L1598.3 362.0 L1602.5 359.7 L1607.0 361.6 L1611.2 360.8 L1615.5 359.8 L1619.6 358.7 L1623.7 358.7 L1628.3 362.4 L1631.6 357.0 L1636.1 359.7 L1639.7 356.7 L1643.7 356.0 L1648.3 359.1 L1651.8 355.4 L1655.7 354.1 L1660.0 355.1 L1664.2 355.8 L1668.0 353.9 L1672.4 355.1 L1675.9 351.6 L1680.0 351.5 L1684.3 351.9 L1688.0 349.6 L1692.3 350.3 L1696.0 348.0 L1699.6 345.2" stroke="#8060ae" stroke-width="15.3" />
<path d="M1699.8 346.4 L1708.2 345.2 L1711.1 344.8 L1716.9 345.2 L1722.3 343.2 L1728.0 342.7 L1733.2 340.3 L1738.8 340.4 L1744.4 340.4 L1749.6 339.0 L1755.0 339.4 L1760.3 338.7 L1765.5 336.8 L1770.7 335.4 L1776.2 336.6 L1781.3 334.5 L1786.6 333.7 L1792.1 334.9 L1797.4 334.7 L1802.7 334.3 L1808.0 334.3 L1813.2 332.2 L1818.4 331.5 L1823.7 331.3 L1829.2 333.0 L1834.3 330.6 L1839.6 330.4 L1844.7 329.6 L1849.8 329.2 L1854.9 328.6 L1860.0 328.8 L1864.9 327.7 L1869.9 327.5 L1875.1 328.4 L1877.4 326.3 L1885.1 326.9" stroke="#8060ae" stroke-width="14.8" />
<path d="M1885.0 326.3 L1892.5 326.2 L1895.0 326.4 L1900.0 325.4 L1905.0 325.8 L1910.0 326.0 L1915.0 325.9 L1920.0 324.6 L1925.1 325.1 L1930.2 324.9 L1935.4 324.5 L1940.6 325.0 L1945.8 324.1 L1951.0 323.8 L1956.2 324.4 L1961.4 323.7 L1966.6 323.0 L1971.8 322.8 L1977.0 322.9 L1982.2 322.0 L1987.4 322.7 L1992.6 322.7 L1997.8 322.0 L2003.0 322.5 L2008.2 322.4 L2013.4 321.6 L2018.6 321.6 L2023.8 320.5 L2029.0 320.3 L2034.2 321.6 L2039.4 320.4 L2044.6 320.2 L2049.9 321.3 L2055.1 321.0 L2060.3 319.9 L2065.5 320.1 L2070.7 319.9 L2075.9 319.9 L2081.1 319.4 L2086.3 320.2 L2091.5 319.8 L2096.7 319.8 L2101.9 319.4 L2107.1 319.2 L2112.4 319.1 L2117.6 320.3 L2122.8 320.1 L2128.1 319.7 L2133.4 319.0 L2138.8 319.0 L2144.2 318.9 L2146.9 319.2 L2155.0 318.7" stroke="#8060ae" stroke-width="13.3" />
<path d="M1368.0 405.5 L1370.0 406.0" stroke="#8060ae" stroke-width="13.3" />
<path d="M2156.5 318.4 L2172.0 318.4" stroke="#e10b12" stroke-width="13.0" stroke-linecap="butt"/>
</g>
<rect x="253.7" y="72.8" width="2109.5" height="1477.9" fill="none" stroke="#000" stroke-width="7.5"/>
<g stroke="#000" stroke-width="6.4" fill="none">
<line x1="517.4" y1="1550.7" x2="517.4" y2="1516.7"/>
<line x1="781.1" y1="1550.7" x2="781.1" y2="1516.7"/>
<line x1="1044.8" y1="1550.7" x2="1044.8" y2="1516.7"/>
<line x1="1308.4" y1="1550.7" x2="1308.4" y2="1516.7"/>
<line x1="1572.1" y1="1550.7" x2="1572.1" y2="1516.7"/>
<line x1="1835.8" y1="1550.7" x2="1835.8" y2="1516.7"/>
<line x1="2099.5" y1="1550.7" x2="2099.5" y2="1516.7"/>
<line x1="253.7" y1="197.0" x2="272.7" y2="197.0"/>
<line x1="253.7" y1="320.1" x2="287.2" y2="320.1"/>
<line x1="253.7" y1="443.3" x2="272.7" y2="443.3"/>
<line x1="253.7" y1="566.4" x2="287.2" y2="566.4"/>
<line x1="253.7" y1="689.6" x2="272.7" y2="689.6"/>
<line x1="253.7" y1="812.8" x2="287.2" y2="812.8"/>
<line x1="253.7" y1="935.9" x2="272.7" y2="935.9"/>
<line x1="253.7" y1="1059.1" x2="287.2" y2="1059.1"/>
<line x1="253.7" y1="1182.2" x2="272.7" y2="1182.2"/>
<line x1="253.7" y1="1305.4" x2="287.2" y2="1305.4"/>
<line x1="253.7" y1="1428.5" x2="272.7" y2="1428.5"/>
</g>
<g font-family='"Liberation Serif", "Times New Roman", serif' font-size="75" fill="#000" stroke="#fefefe" stroke-width="0.6">
<text x="221.0" y="93.8" text-anchor="end">5</text>
<text x="221.0" y="340.1" text-anchor="end">0</text>
<text x="221.0" y="586.4" text-anchor="end">-5</text>
<text x="221.0" y="832.8" text-anchor="end">-10</text>
<text x="221.0" y="1079.1" text-anchor="end">-15</text>
<text x="221.0" y="1325.4" text-anchor="end">-20</text>
<text x="221.0" y="1571.7" text-anchor="end">-25</text>
<text x="253.7" y="1638.4" text-anchor="middle">-1.5</text>
<text x="517.4" y="1638.4" text-anchor="middle">-1.4</text>
<text x="781.1" y="1638.4" text-anchor="middle">-1.3</text>
<text x="1044.8" y="1638.4" text-anchor="middle">-1.2</text>
<text x="1308.4" y="1638.4" text-anchor="middle">-1.1</text>
<text x="1572.1" y="1638.4" text-anchor="middle">-1.0</text>
<text x="1835.8" y="1638.4" text-anchor="middle">-0.9</text>
<text x="2099.5" y="1638.4" text-anchor="middle">-0.8</text>
<text x="2363.2" y="1638.4" text-anchor="middle">-0.7</text>
<text x="521.5" y="205.3" font-size="74.0">30°C</text>
<text x="521.5" y="297.9" font-size="74.0">40°C</text>
<text x="521.5" y="391.2" font-size="74.0">50°C</text>
<text x="521.5" y="484.0" font-size="74.0">60°C</text>
<text x="521.5" y="577.3" font-size="74.0">70°C</text>
<text x="1057.0" y="1735.0" font-size="73.0" letter-spacing="-0.32">Potential / V<tspan font-size="40.0" dy="28.0" dx="4.5" letter-spacing="0" stroke-width="0.25">VS SCE</tspan></text>
<text transform="translate(91.0 926.2) rotate(-90)" font-size="76.5">j/mA<tspan font-size="61.2" dx="3.0">·</tspan><tspan dx="3.0">cm</tspan><tspan font-size="47.0" dy="-41.0" dx="-2.5" stroke-width="0.3">-2</tspan></text>
</g>
<g fill="none" stroke-linecap="round" stroke-width="12.8">
<line x1="336.1" y1="180.6" x2="502.2" y2="180.6" stroke="#069d06"/>
<line x1="336.1" y1="273.4" x2="373.1" y2="273.4" stroke="#3b5a8c"/>
<line x1="425.2" y1="273.4" x2="462.4" y2="273.4" stroke="#3b5a8c"/>
<line x1="335.6" y1="365.9" x2="342.2" y2="365.9" stroke="#e10b12"/>
<line x1="389.5" y1="365.9" x2="396.1" y2="365.9" stroke="#e10b12"/>
<line x1="443.4" y1="365.9" x2="450.0" y2="365.9" stroke="#e10b12"/>
<line x1="335.5" y1="459.6" x2="381.9" y2="459.6" stroke="#f1c004"/>
<line x1="409.7" y1="459.6" x2="418.1" y2="459.6" stroke="#f1c004"/>
<line x1="448.6" y1="459.6" x2="494.9" y2="459.6" stroke="#f1c004"/>
<line x1="336.1" y1="552.0" x2="368.6" y2="552.0" stroke="#8060ae"/>
<line x1="398.2" y1="552.0" x2="404.9" y2="552.0" stroke="#8060ae"/>
<line x1="433.9" y1="552.0" x2="440.2" y2="552.0" stroke="#8060ae"/>
</g>
</svg>
</body></html>
